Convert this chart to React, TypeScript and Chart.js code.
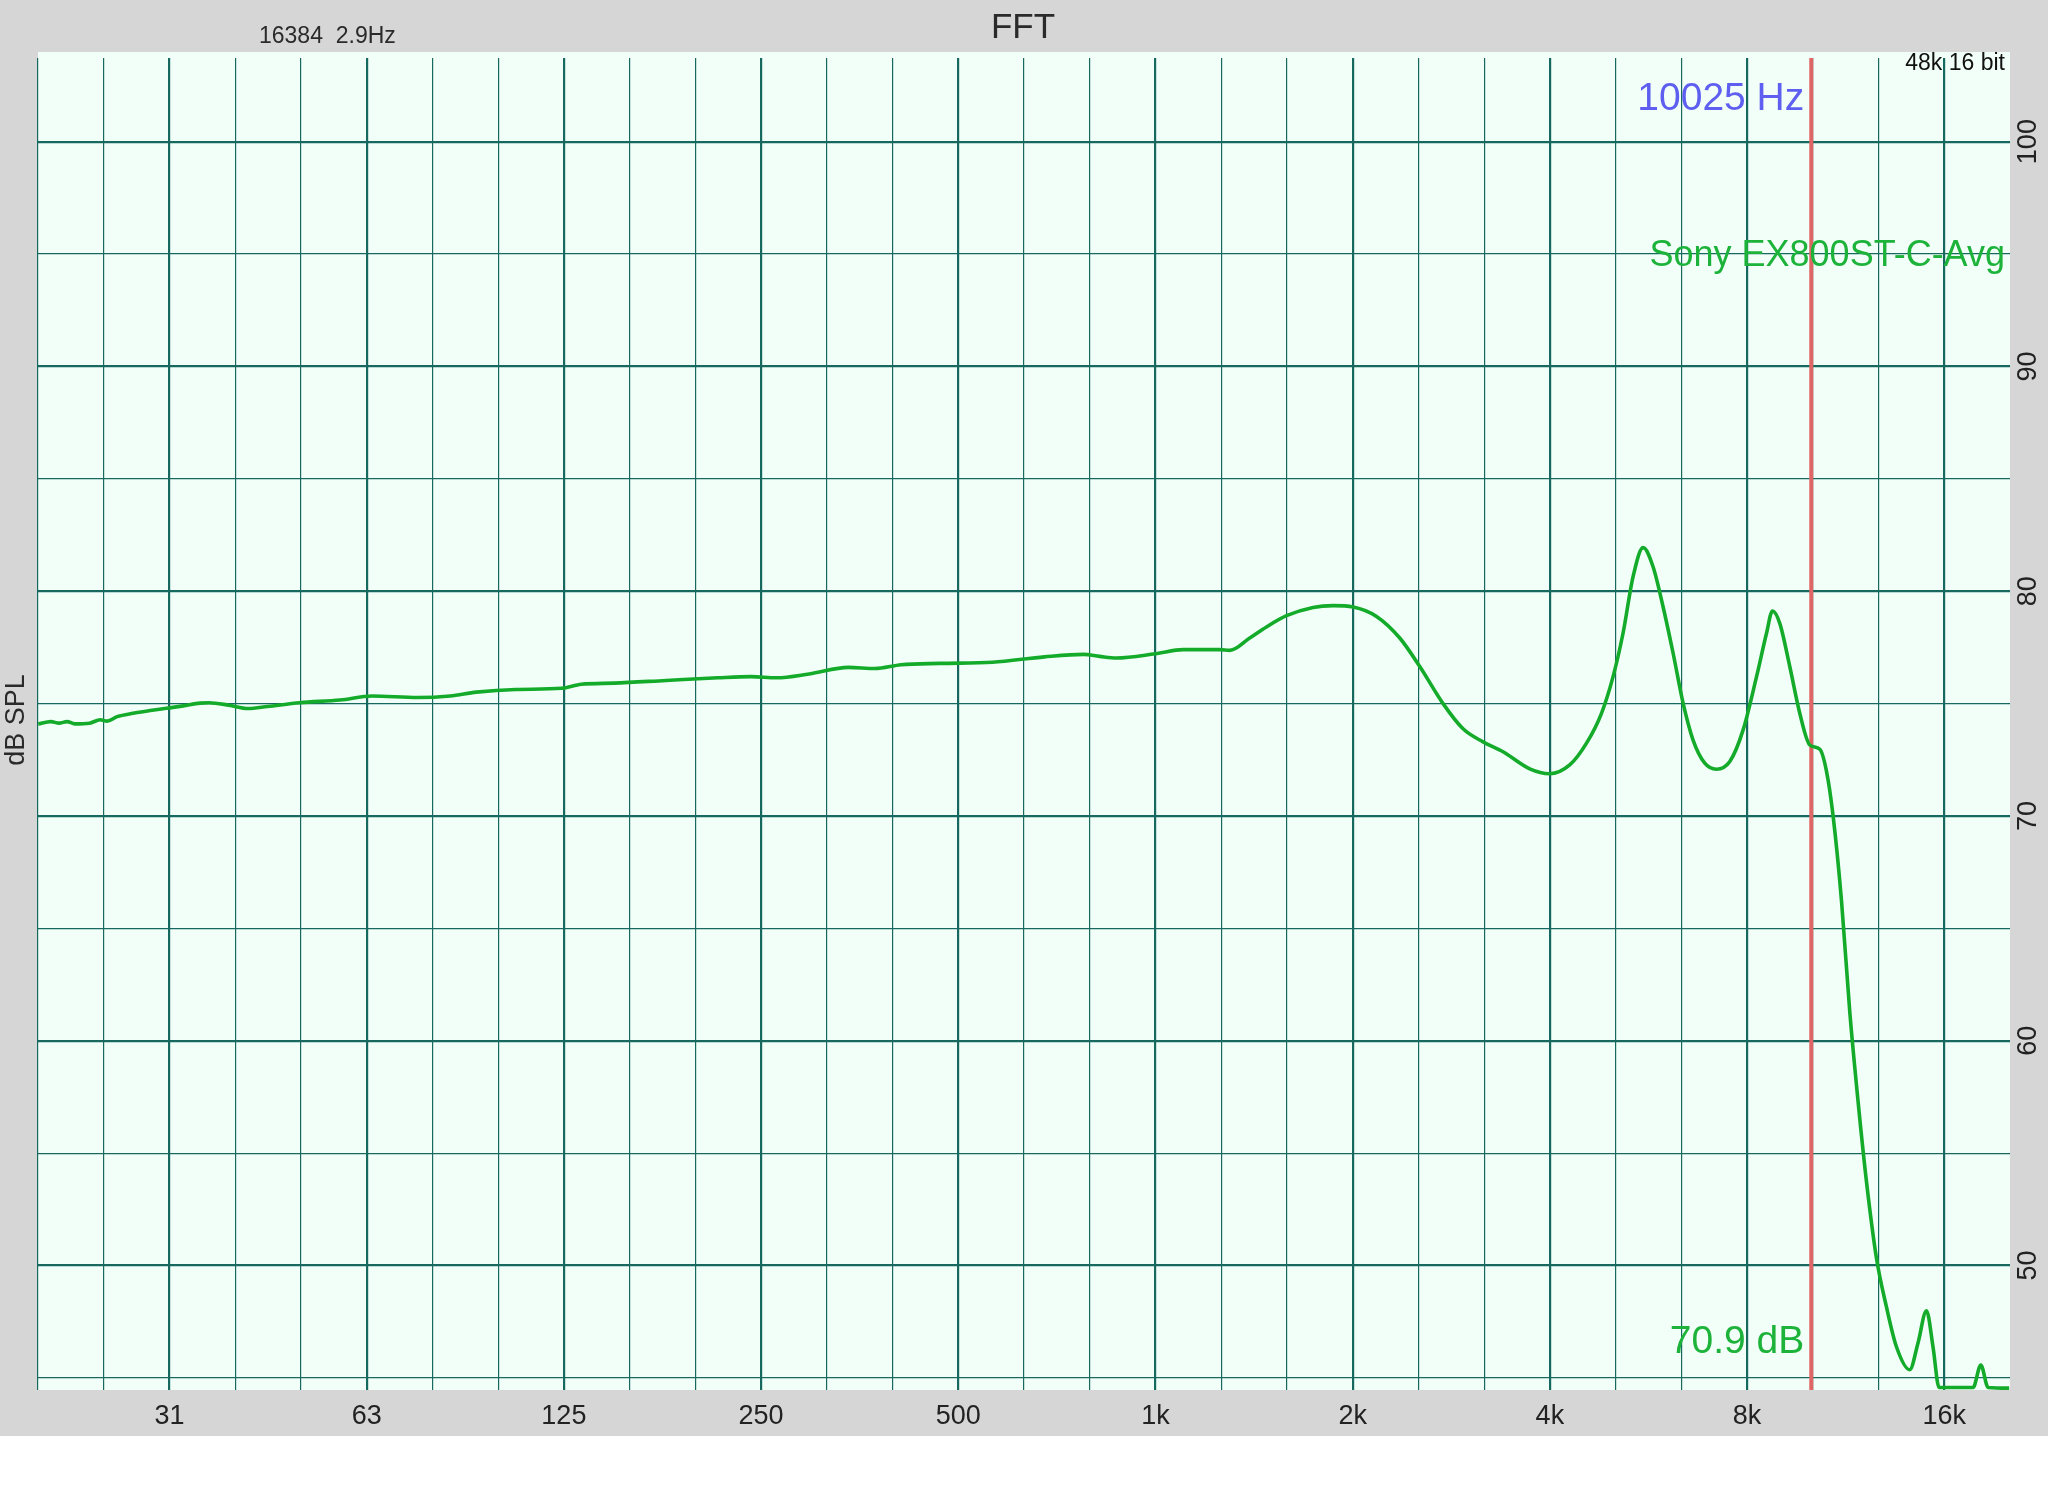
import React, { useEffect, useRef } from 'react';
import { Chart, registerables } from 'chart.js';

Chart.register(...registerables);

// ---- data ----
const FREQ_HZ = [
  19.7, 20.6, 21.2, 21.8, 22.4, 23.6, 24.5, 25.1, 26.0, 27.5,
  29.2, 30.9, 32.8, 34.8, 35.9, 38.5, 41.2, 44.1, 49.4, 56.9,
  63.7, 74.8, 83.8, 91.9, 105.5, 124, 132.9, 149, 179, 215,
  241.5, 264, 296, 340, 373, 409, 469, 564, 677, 777,
  822, 872, 1000, 1102, 1254, 1299, 1393, 1477, 1585, 1740,
  1867, 2003, 2175, 2360, 2532, 2748, 2948, 3162, 3393,
  3727, 3996, 4289, 4550, 4796, 4995, 5173, 5359, 5551, 5749,
  5955, 6169, 6389, 6617, 6895, 7185, 7529, 7890, 8271, 8566,
  8747, 8975, 9297, 9628, 9972, 10330, 10577, 10825, 11150, 11480,
  11819, 12174, 12606, 13058, 13528, 14172, 14590, 15030, 15380, 15710,
  17707, 18193, 18665, 20100,
];
const SPL_DB = [
  74.09, 74.20, 74.13, 74.20, 74.10, 74.13, 74.28, 74.22, 74.42, 74.57,
  74.69, 74.79, 74.90, 75.02, 75.04, 74.93, 74.78, 74.87, 75.04, 75.16,
  75.34, 75.27, 75.34, 75.51, 75.63, 75.68, 75.86, 75.91, 76.03, 76.15,
  76.20, 76.15, 76.32, 76.61, 76.56, 76.73, 76.79, 76.84, 77.08, 77.19,
  77.10, 77.03, 77.22, 77.40, 77.40, 77.37, 77.92, 78.41, 78.91, 79.28,
  79.36, 79.30, 78.88, 77.92, 76.65, 75.00, 73.88, 73.30, 72.86,
  72.10, 71.88, 72.27, 73.24, 74.57, 76.20, 78.13, 80.65, 81.94, 81.09,
  79.31, 77.24, 75.02, 73.38, 72.35, 72.08, 72.42, 73.83, 76.20, 78.13,
  79.12, 78.57, 76.64, 74.57, 73.16, 72.97, 71.99, 70.00, 66.22, 61.26,
  57.29, 53.72, 50.34, 48.16, 46.38, 45.37, 46.56, 47.99, 46.38, 44.58,
  44.58, 45.58, 44.58, 44.55,
];

const X_MIN_HZ = 19.686;
const X_MAX_HZ = 20158.7;
const Y_MIN_DB = 44.466;
const Y_MAX_DB = 103.72;

const GRID_FREQS = [
  19.69, 24.8, 31.25, 39.37, 49.61, 62.5, 78.75, 99.21, 125, 157.49,
  198.43, 250, 314.98, 396.85, 500, 629.96, 793.7, 1000, 1259.92, 1587.4,
  2000, 2519.84, 3174.8, 4000, 5039.68, 6349.6, 8000, 10079.37, 12699.21, 16000,
];
const OCTAVE_FREQS = [31.25, 62.5, 125, 250, 500, 1000, 2000, 4000, 8000, 16000];
const OCTAVE_LABELS = ['31', '63', '125', '250', '500', '1k', '2k', '4k', '8k', '16k'];

const GRID_DB = [45, 50, 55, 60, 65, 70, 75, 80, 85, 90, 95, 100];
const DB_LABELS = [50, 60, 70, 80, 90, 100];

const MARKER_HZ = 10025;
const MARKER_LABEL = '10025 Hz';
const MARKER_VALUE_LABEL = '70.9 dB';
const SERIES_NAME = 'Sony EX800ST-C-Avg';
const TITLE = 'FFT';
const FFT_INFO = '16384  2.9Hz';
const FORMAT_INFO = '48k 16 bit';
const Y_TITLE = 'dB SPL';

// ---- styles ----
const FONT = '"Liberation Sans", Arial, Helvetica, sans-serif';
const GRAY_BG = '#d5d6d5';
const PLOT_BG = '#f2fff8';
const GRID_COLOR = '#17695f';
const CURVE_COLOR = '#14ab2b';
const MARKER_COLOR = '#e06666';
const BLUE_TEXT = '#5e5ef0';
const GREEN_TEXT = '#1db33a';
const DARK_TEXT = '#222222';

const octaveIndex = (v: number) =>
  OCTAVE_FREQS.findIndex((f) => Math.abs(f - v) / f < 0.01);

const decorPlugin = {
  id: 'decor',
  beforeDraw(chart: any) {
    const ctx = chart.ctx as CanvasRenderingContext2D;
    const { left, right, bottom } = chart.chartArea;
    ctx.save();
    ctx.fillStyle = GRAY_BG;
    ctx.fillRect(0, 0, chart.width, 1436);
    ctx.fillStyle = PLOT_BG;
    ctx.fillRect(left, 52, right - left, bottom - 52);
    ctx.restore();
  },
  afterDraw(chart: any) {
    const ctx = chart.ctx as CanvasRenderingContext2D;
    const xs = chart.scales.x;
    const ys = chart.scales.y;
    const { right } = chart.chartArea;
    const mx = xs.getPixelForValue(MARKER_HZ);
    ctx.save();
    ctx.textBaseline = 'middle';

    // title
    ctx.fillStyle = '#2a2a2a';
    ctx.font = `35px ${FONT}`;
    ctx.textAlign = 'center';
    ctx.fillText(TITLE, 1023, 28);

    // FFT info
    ctx.font = `23px ${FONT}`;
    ctx.textAlign = 'left';
    ctx.fillText(FFT_INFO, 259, 37);

    // format info
    ctx.fillStyle = '#111111';
    ctx.textAlign = 'right';
    ctx.fillText(FORMAT_INFO, right - 5, 64);

    // marker label
    ctx.font = `39px ${FONT}`;
    ctx.fillStyle = BLUE_TEXT;
    ctx.fillText(MARKER_LABEL, mx - 7, 99);

    // marker value
    ctx.fillStyle = GREEN_TEXT;
    ctx.fillText(MARKER_VALUE_LABEL, mx - 7, 1342);

    // series name
    ctx.font = `36px ${FONT}`;
    ctx.fillText(SERIES_NAME, right - 5, 256);

    // y tick labels (rotated)
    ctx.fillStyle = DARK_TEXT;
    ctx.font = `27px ${FONT}`;
    ctx.textAlign = 'center';
    for (const v of DB_LABELS) {
      const y = ys.getPixelForValue(v);
      ctx.save();
      ctx.translate(2029, y);
      ctx.rotate(-Math.PI / 2);
      ctx.fillText(String(v), 0, 0);
      ctx.restore();
    }

    // y title
    ctx.save();
    ctx.translate(17, 720);
    ctx.rotate(-Math.PI / 2);
    ctx.fillStyle = '#2a2a2a';
    ctx.fillText(Y_TITLE, 0, 0);
    ctx.restore();

    ctx.restore();
  },
};

export default function App() {
  const canvasRef = useRef<HTMLCanvasElement | null>(null);

  useEffect(() => {
    const canvas = canvasRef.current;
    if (!canvas) return;
    const chart = new Chart(canvas, {
      type: 'line',
      data: {
        datasets: [
          {
            label: SERIES_NAME,
            data: FREQ_HZ.map((f, i) => ({ x: f, y: SPL_DB[i] })),
            borderColor: CURVE_COLOR,
            borderWidth: 3.6,
            pointRadius: 0,
            fill: false,
            cubicInterpolationMode: 'monotone',
            order: 0,
          },
          {
            label: MARKER_LABEL,
            data: [
              { x: MARKER_HZ, y: Y_MIN_DB },
              { x: MARKER_HZ, y: Y_MAX_DB },
            ],
            borderColor: MARKER_COLOR,
            borderWidth: 4,
            pointRadius: 0,
            fill: false,
            order: 1,
          },
        ],
      },
      options: {
        animation: false,
        responsive: false,
        devicePixelRatio: 1,
        layout: { padding: { left: 38, right: 38, top: 58, bottom: 60 } },
        plugins: {
          legend: { display: false },
          tooltip: { enabled: false },
          title: { display: false },
        },
        scales: {
          x: {
            type: 'logarithmic',
            position: 'bottom',
            min: X_MIN_HZ,
            max: X_MAX_HZ,
            afterBuildTicks: (s: any) => {
              s.ticks = GRID_FREQS.map((v) => ({ value: v }));
            },
            afterFit: (s: any) => {
              s.height = 46;
            },
            border: { display: false },
            grid: {
              color: GRID_COLOR,
              drawTicks: false,
              lineWidth: (c: any) =>
                c.tick && octaveIndex(c.tick.value) >= 0 ? 2.2 : 1.2,
            },
            ticks: {
              autoSkip: false,
              maxRotation: 0,
              minRotation: 0,
              padding: 10,
              color: DARK_TEXT,
              font: { family: FONT, size: 27 },
              callback: (v: any) => {
                const i = octaveIndex(Number(v));
                return i >= 0 ? OCTAVE_LABELS[i] : '';
              },
            },
          },
          y: {
            type: 'linear',
            position: 'left',
            min: Y_MIN_DB,
            max: Y_MAX_DB,
            afterBuildTicks: (s: any) => {
              s.ticks = GRID_DB.map((v) => ({ value: v }));
            },
            border: { display: false },
            grid: {
              color: GRID_COLOR,
              drawTicks: false,
              lineWidth: (c: any) =>
                c.tick && c.tick.value % 10 === 0 ? 2.2 : 1.2,
            },
            ticks: { display: false },
          },
        },
      },
      plugins: [decorPlugin],
    } as any);
    return () => chart.destroy();
  }, []);

  return (
    <div style={{ position: 'absolute', left: 0, top: 0, width: 2048, height: 1496 }}>
      <canvas ref={canvasRef} width={2048} height={1496} style={{ display: 'block' }} />
    </div>
  );
}
